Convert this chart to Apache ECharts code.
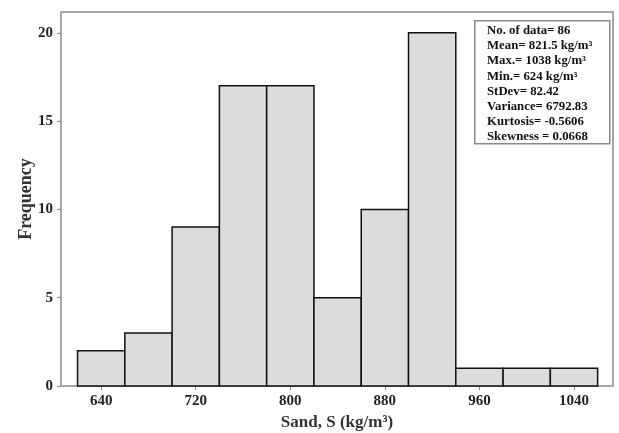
<!DOCTYPE html>
<html><head><meta charset="utf-8">
<script src="https://cdn.jsdelivr.net/npm/echarts@6/dist/echarts.min.js"></script>
<style>html,body{margin:0;padding:0;background:#fff}#c{width:619px;height:433px}</style>
</head><body><div id="c"></div>
<script>
const binCenters = [640, 680, 720, 760, 800, 840, 880, 920, 960, 1000, 1040];
const counts = [2, 3, 9, 17, 17, 5, 10, 20, 1, 1, 1];
const binWidth = 40;
const xTicks = [640, 720, 800, 880, 960, 1040];
const yTicks = [0, 5, 10, 15, 20];
const statsLines = [
  'No. of data= 86',
  'Mean= 821.5 kg/m³',
  'Max.= 1038 kg/m³',
  'Min.= 624 kg/m³',
  'StDev= 82.42',
  'Variance= 6792.83',
  'Kurtosis= -0.5606',
  'Skewness = 0.0668'
];
const FONT = '"Liberation Serif", "Times New Roman", serif';
const chart = echarts.init(document.getElementById('c'), null, {renderer: 'canvas'});
const data = binCenters.map((c, i) => [c, counts[i]]);
chart.setOption({
  backgroundColor: '#fff',
  animation: false,
  grid: {left: 61, top: 12, right: 6, bottom: 47, outerBoundsMode: 'none', containLabel: false,
         show: true, borderColor: '#8a8a8a', borderWidth: 1.5},
  xAxis: {
    type: 'value', min: 606, max: 1073,
    name: 'Sand, S (kg/m³)', nameLocation: 'middle', nameGap: 28, nameMoveOverlap: false,
    nameTextStyle: {fontFamily: FONT, fontWeight: 'bold', fontSize: 17, color: '#333'},
    axisLine: {show: false},
    splitLine: {show: false},
    axisTick: {show: true, customValues: xTicks, length: 4, lineStyle: {color: '#8a8a8a', width: 1}},
    axisLabel: {customValues: xTicks, formatter: v => String(v), fontFamily: FONT, fontWeight: 'bold', fontSize: 15, color: '#222', margin: 8}
  },
  yAxis: {
    type: 'value', min: 0, max: 21.18,
    name: 'Frequency', nameLocation: 'middle', nameGap: 26, nameMoveOverlap: false,
    nameTextStyle: {fontFamily: FONT, fontWeight: 'bold', fontSize: 18, color: '#333'},
    axisLine: {show: false},
    splitLine: {show: false},
    axisTick: {show: true, customValues: yTicks, length: 4, lineStyle: {color: '#8a8a8a', width: 1}},
    axisLabel: {customValues: yTicks, formatter: v => String(v), fontFamily: FONT, fontWeight: 'bold', fontSize: 15, color: '#222', margin: 8}
  },
  series: [{
    type: 'custom',
    data: data,
    renderItem: function (params, api) {
      const c = api.value(0), v = api.value(1);
      const p0 = api.coord([c - binWidth / 2, v]);
      const p1 = api.coord([c + binWidth / 2, 0]);
      return {
        type: 'rect',
        shape: {x: p0[0], y: p0[1], width: p1[0] - p0[0], height: p1[1] - p0[1]},
        style: {fill: '#dcdcdc', stroke: '#111', lineWidth: 1.5}
      };
    }
  }],
  graphic: [
    {type: 'rect', left: 474, top: 20, shape: {width: 135, height: 123},
     style: {fill: '#fff', stroke: '#8a8a8a', lineWidth: 1.5}, z: 100},
    {type: 'text', left: 487, top: 23, z: 101,
     style: {text: statsLines.join('\n'), font: 'bold 12.8px ' + FONT, lineHeight: 15.2, fill: '#111'}}
  ]
});
</script></body></html>
